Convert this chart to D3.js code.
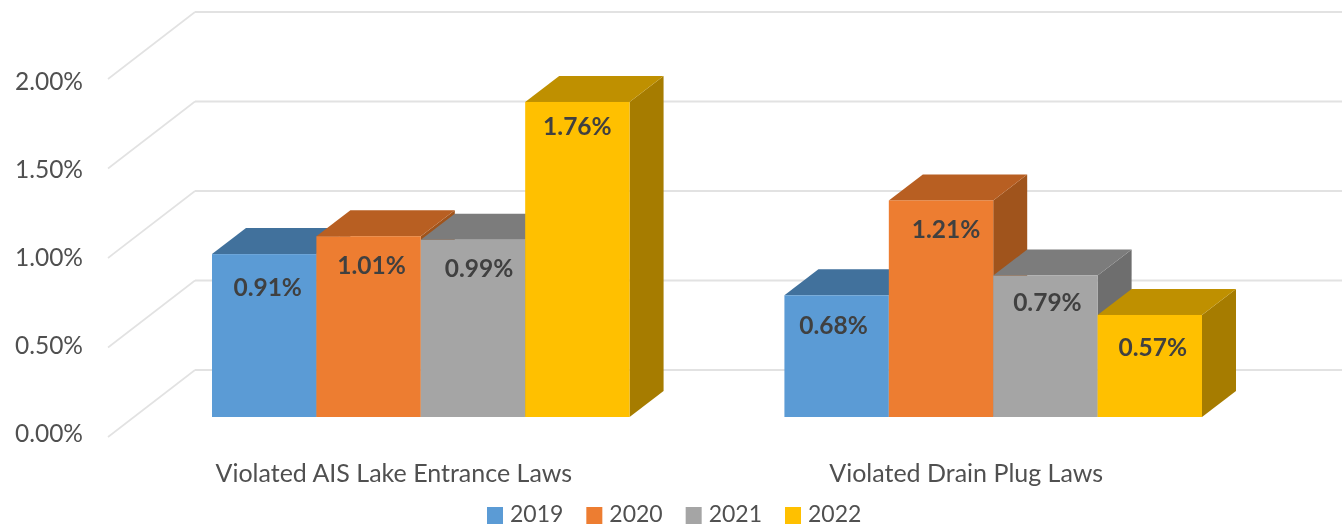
<!DOCTYPE html>
<html><head><meta charset="utf-8">
<script src="https://cdn.jsdelivr.net/npm/d3@7"></script>
<style>
html,body{margin:0;padding:0;background:#fff;overflow:hidden}
svg{display:block;filter:blur(0.55px)}
text{font-family:Lato,"Open Sans",sans-serif}
</style></head><body>
<script>
const categories = ["Violated AIS Lake Entrance Laws", "Violated Drain Plug Laws"];
const seriesNames = ["2019", "2020", "2021", "2022"];
const values2019 = [0.91, 0.68];
const values2020 = [1.01, 1.21];
const values2021 = [0.99, 0.79];
const values2022 = [1.76, 0.57];
const tickValues = [0, 0.5, 1, 1.5, 2];

const seriesValues = [values2019, values2020, values2021, values2022];
const frontColors = ["#5b9bd5", "#ed7d31", "#a5a5a5", "#ffc000"];
const topColors = ["#41719c", "#b85f22", "#7c7c7c", "#bf9000"];
const sideColors = ["#3a6690", "#a0541c", "#6e6e6e", "#a67c00"];
// small layout nudges for the value labels [series][category]: dx, dy
const nudgeX = [[3.5, -3], [3, 5], [6, 2], [0, 3]];
const nudgeY = [[32, 29], [28, 28], [28, 26], [24, 32]];

const W = 1342, H = 527;
const svg = d3.select("body").append("svg").attr("width", W).attr("height", H);

const depthX = 34, depthY = 26;
const y = d3.scaleLinear().domain([0, 2]).range([417, 59]);      // bar front plane
const yBack = d3.scaleLinear().domain([0, 2]).range([370, 12]);  // back wall
const yWall = d3.scaleLinear().domain([0, 2]).range([437, 79]);  // front of left wall
const yLabel = d3.scaleLinear().domain([0, 2]).range([434, 82]);
const x0 = d3.scaleBand().domain(categories).range([212, 1202]).paddingInner(0.2705);
const x1 = d3.scaleBand().domain(seriesNames).range([0, x0.bandwidth()]);

const wallLeft = 108, wallRight = 195;
const grid = svg.append("g");
grid.selectAll("line.back").data(tickValues).join("line").attr("class", "back")
  .attr("x1", wallRight).attr("x2", W)
  .attr("y1", d => yBack(d)).attr("y2", d => yBack(d))
  .attr("stroke", "#e2e2e2").attr("stroke-width", 2);
grid.selectAll("line.wall").data(tickValues).join("line").attr("class", "wall")
  .attr("x1", wallLeft).attr("x2", wallRight)
  .attr("y1", d => yWall(d)).attr("y2", d => yBack(d))
  .attr("stroke", "#e2e2e2").attr("stroke-width", 1.6);

const axisY = svg.append("g").attr("transform", "translate(83,0)")
  .call(d3.axisLeft(yLabel).tickValues(tickValues).tickSize(0).tickPadding(0)
    .tickFormat(d => d3.format(".2f")(d) + "%"));
axisY.select(".domain").remove();
axisY.selectAll("text").attr("fill", "#505050").style("font-size", "24.5px").style("font-family", "Lato");

const axisX = svg.append("g").attr("transform", "translate(-27,464)")
  .call(d3.axisBottom(x0).tickSize(0).tickPadding(0));
axisX.select(".domain").remove();
axisX.selectAll("text").attr("fill", "#505050").style("font-size", "25px").style("font-family", "Lato");

const bars = [];
categories.forEach((c, ci) => seriesNames.forEach((s, si) => {
  bars.push({c, ci, s, si, v: seriesValues[si][ci]});
}));
const barG = svg.append("g").selectAll("g").data(bars).join("g");
const L = d => x0(d.c) + x1(d.s), R = d => L(d) + x1.bandwidth();
barG.append("path").attr("fill", d => sideColors[d.si]).attr("d", d =>
  `M${R(d)},${y(d.v)}L${R(d)+depthX},${y(d.v)-depthY}L${R(d)+depthX},${y(0)-depthY}L${R(d)},${y(0)}Z`);
barG.append("path").attr("fill", d => topColors[d.si]).attr("d", d =>
  `M${L(d)},${y(d.v)}L${L(d)+depthX},${y(d.v)-depthY}L${R(d)+depthX},${y(d.v)-depthY}L${R(d)},${y(d.v)}Z`);
barG.append("rect").attr("fill", d => frontColors[d.si])
  .attr("x", L).attr("y", d => y(d.v)).attr("width", x1.bandwidth()).attr("height", d => y(0) - y(d.v));

svg.append("g").selectAll("text").data(bars).join("text")
  .attr("x", d => (L(d) + R(d)) / 2 + nudgeX[d.si][d.ci])
  .attr("y", d => y(d.v) + nudgeY[d.si][d.ci])
  .attr("text-anchor", "middle").attr("dominant-baseline", "central")
  .attr("fill", "#404040").style("font-size", "24.5px").style("font-weight", 700)
  .text(d => d.v.toFixed(2) + "%");

const legendX = d3.scalePoint().domain(seriesNames).range([487, 785]);
const lg = svg.append("g").selectAll("g").data(seriesNames).join("g")
  .attr("transform", d => `translate(${legendX(d)},0)`);
lg.append("rect").attr("y", 507).attr("width", 16).attr("height", 17)
  .attr("fill", (d, i) => frontColors[i]);
lg.append("text").attr("x", 23).attr("y", 522).attr("fill", "#505050")
  .style("font-size", "23px").text(d => d);
</script>
</body></html>
